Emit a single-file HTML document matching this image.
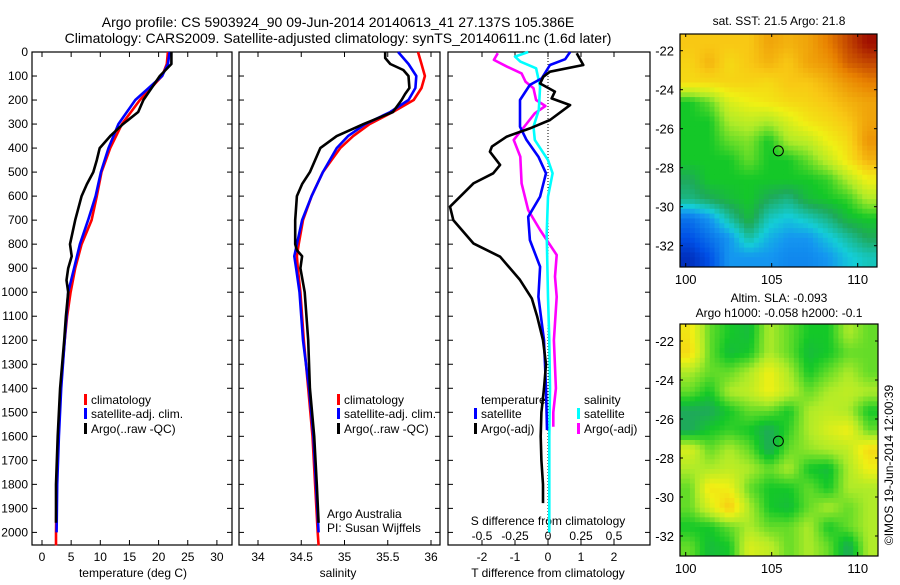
<!DOCTYPE html>
<html><head><meta charset="utf-8"><style>
body{margin:0;background:#fff;width:900px;height:580px;overflow:hidden}
svg{font-family:"Liberation Sans",sans-serif;font-size:12px}
</style></head><body>
<svg id="c" width="900" height="580" xmlns="http://www.w3.org/2000/svg"></svg>
<script>
// ---- data ----
const tempTicks=[0,5,10,15,20,25,30];
const salTicks=[34,34.5,35,35.5,36];
const tdTicks=[-2,-1,0,1,2];
const sdTicks=[-0.5,-0.25,0,0.25,0.5];
const sdTickLabels=["-0.5","-0.25","0","0.25","0.5"];
const depthTicks=[0,100,200,300,400,500,600,700,800,900,1000,1100,1200,1300,1400,1500,1600,1700,1800,1900,2000];
const tClimD=[0,50,100,200,300,400,500,600,700,800,900,1000,1100,1200,1400,1600,1800,2000,2054];
const tClimV=[21.6,21.4,20.6,16.8,13.7,11.7,10.2,9.4,8.5,6.8,5.7,4.9,4.3,3.9,3.2,2.8,2.5,2.4,2.4];
const tSatD=[0,50,100,200,300,400,500,600,700,800,900,1000,1100,1200,1400,1600,1800,2000];
const tSatV=[21.9,21.6,20.6,16.0,13.1,11.4,10.1,9.2,7.9,6.5,5.5,4.5,4.2,3.9,3.3,2.9,2.6,2.5];
const tArgoD=[0,50,100,200,250,300,350,400,450,500,550,600,700,800,850,900,950,1000,1100,1200,1400,1600,1800,1960];
const tArgoV=[22.2,22.2,20.2,17.4,16.5,13.9,11.7,9.9,9.4,8.8,7.7,6.8,5.7,4.8,5.1,4.5,4.2,4.5,4.1,3.8,3.1,2.7,2.4,2.4];
const sClimD=[0,50,100,150,200,250,300,350,400,450,500,600,700,800,850,900,1000,1200,1400,1600,1800,2000,2054];
const sClimV=[35.85,35.89,35.93,35.89,35.80,35.56,35.29,35.10,34.95,34.85,34.75,34.62,34.52,34.47,34.45,34.46,34.49,34.53,34.58,34.63,34.66,34.69,34.70];
const sSatD=[0,50,100,150,200,250,300,350,400,450,500,600,700,800,850,900,1000,1200,1400,1600,1800,2000];
const sSatV=[35.62,35.74,35.83,35.82,35.74,35.53,35.24,35.04,34.91,34.83,34.75,34.62,34.51,34.45,34.42,34.44,34.48,34.52,34.59,34.64,34.67,34.70];
const sArgoD=[0,25,50,75,100,150,175,200,250,300,350,400,450,500,550,600,700,800,825,850,900,1000,1200,1400,1600,1800,1960];
const sArgoV=[35.47,35.47,35.53,35.68,35.74,35.75,35.70,35.66,35.56,35.22,34.91,34.72,34.66,34.60,34.51,34.45,34.43,34.43,34.45,34.51,34.49,34.54,34.58,34.60,34.65,34.68,34.70];
const dTArgoD=[5,54,82,103,131,165,193,221,283,318,352,394,415,470,505,547,644,700,797,852,949,1026,1100,1200,1300,1400,1500,1600,1700,1800,1878];
const dTArgoV=[0.87,1.07,0.06,-0.14,-0.24,0.21,0.11,0.67,0.06,-0.55,-1.25,-1.7,-1.76,-1.45,-1.66,-2.26,-2.97,-2.87,-2.26,-1.45,-0.85,-0.49,-0.33,-0.15,-0.06,-0.12,-0.2,-0.22,-0.2,-0.15,-0.15];
const dTSatD=[0,30,54,110,137,200,311,366,436,505,602,686,783,894,1019,1200,1400,1574];
const dTSatV=[0.67,0.52,0.06,-0.19,-0.55,-0.85,-0.85,-0.65,-0.29,-0.06,-0.24,-0.6,-0.55,-0.24,-0.29,-0.12,-0.06,-0.03];
const dSSatD=[0,19,40,68,144,241,311,366,450,505,602,755,1019,1200,1400,1600,1800,2000];
const dSSatV=[-0.15,-0.25,-0.21,-0.09,-0.06,-0.07,-0.11,-0.10,0,0.035,0,-0.01,0,0.01,0.015,0.01,0.01,0.01];
const dSArgoD=[5,33,61,89,124,151,200,225,255,304,366,436,547,658,741,845,935,1019,1200,1400,1500,1560];
const dSArgoV=[-0.38,-0.41,-0.31,-0.2,-0.17,-0.11,-0.09,-0.02,-0.1,-0.17,-0.26,-0.21,-0.2,-0.15,-0.06,0.066,0.053,0.066,0.045,0.06,0.04,0.04];
const lonTicks=[100,105,110];
const latTicks=[-22,-24,-26,-28,-30,-32];
const sstGrid=[
[0.75,0.75,0.75,0.75,0.8,0.78,0.8,0.85,0.9,0.95],
[0.73,0.78,0.72,0.75,0.78,0.75,0.8,0.82,0.88,0.9],
[0.72,0.72,0.73,0.73,0.72,0.75,0.75,0.78,0.82,0.85],
[0.5,0.55,0.65,0.68,0.7,0.72,0.73,0.75,0.78,0.8],
[0.5,0.5,0.6,0.62,0.6,0.65,0.7,0.72,0.75,0.8],
[0.5,0.5,0.55,0.57,0.5,0.6,0.62,0.68,0.72,0.82],
[0.5,0.5,0.5,0.55,0.5,0.5,0.55,0.62,0.7,0.78],
[0.45,0.5,0.5,0.5,0.5,0.5,0.5,0.52,0.6,0.68],
[0.42,0.45,0.48,0.5,0.45,0.42,0.48,0.5,0.52,0.6],
[0.25,0.3,0.4,0.48,0.38,0.35,0.38,0.42,0.48,0.5],
[0.2,0.25,0.3,0.4,0.33,0.3,0.3,0.35,0.4,0.45],
[0.15,0.2,0.3,0.3,0.3,0.28,0.28,0.3,0.35,0.38]];
const slaGrid=[
[0.7,0.55,0.5,0.48,0.6,0.55,0.5,0.5,0.6,0.55],
[0.72,0.55,0.48,0.5,0.6,0.55,0.48,0.5,0.55,0.55],
[0.6,0.55,0.55,0.6,0.68,0.6,0.5,0.55,0.6,0.55],
[0.55,0.5,0.6,0.62,0.68,0.62,0.55,0.6,0.62,0.6],
[0.45,0.45,0.5,0.55,0.55,0.5,0.6,0.62,0.6,0.5],
[0.45,0.5,0.52,0.5,0.45,0.52,0.6,0.65,0.68,0.55],
[0.65,0.55,0.6,0.55,0.45,0.55,0.58,0.6,0.62,0.72],
[0.6,0.6,0.62,0.6,0.55,0.6,0.5,0.48,0.6,0.68],
[0.55,0.7,0.68,0.55,0.5,0.5,0.55,0.5,0.6,0.6],
[0.55,0.65,0.75,0.6,0.5,0.48,0.55,0.6,0.55,0.6],
[0.5,0.5,0.55,0.6,0.55,0.55,0.6,0.5,0.55,0.6],
[0.55,0.48,0.5,0.65,0.62,0.55,0.6,0.55,0.45,0.6]];
const argoLon=[105.386];
const argoLat=[-27.137];

// ---- helpers ----
const S=document.getElementById('c');const NS='http://www.w3.org/2000/svg';
function mk(t,a,p){const e=document.createElementNS(NS,t);for(const k in a)e.setAttribute(k,a[k]);(p||S).appendChild(e);return e;}
function tx(x,y,s,anchor,name,size){const e=mk('text',{x:x,y:y,'text-anchor':anchor||'start','font-size':size||12});e.textContent=s;return e;}
const T0=52,T1=545,DS=0.2402;
const yD=d=>T0+d*DS;
const xT=v=>42+v*5.83;
const xS=v=>258+(v-34)*86.5;
const xdT=v=>548+v*33;
const xdS=v=>548+v*132;
function panel(x0,x1,name){const r=mk('rect',{x:x0,y:T0,width:x1-x0,height:T1-T0,fill:'none',stroke:'#000','stroke-width':1.2});
 depthTicks.forEach(d=>{mk('line',{x1:x0,x2:x0+5,y1:yD(d),y2:yD(d),stroke:'#000'});mk('line',{x1:x1,x2:x1-5,y1:yD(d),y2:yD(d),stroke:'#000'});});}
function xticks(x0,vals,fx,labels,ly,name){vals.forEach((v,i)=>{const x=fx(v);mk('line',{x1:x,x2:x,y1:T0,y2:T0+5,stroke:'#000'});mk('line',{x1:x,x2:x,y1:T1,y2:T1-5,stroke:'#000'});tx(x,ly,labels?labels[i]:String(v),'middle',name);});}
function line(D,V,fx,col,name){const p=mk('polyline',{points:D.map((d,i)=>fx(V[i]).toFixed(1)+','+yD(d).toFixed(1)).join(' '),fill:'none',stroke:col,'stroke-width':2.6,'stroke-linejoin':'round'});}
function leg(x,y,col,label,name){mk('rect',{x:x,y:y-10,width:3,height:11,fill:col});tx(x+7,y,label,'start',name);}

// titles
tx(338,27,'Argo profile: CS 5903924_90 09-Jun-2014 20140613_41 27.137S 105.386E','middle','main-title',14);
tx(338,43,'Climatology: CARS2009. Satellite-adjusted climatology: synTS_20140611.nc (1.6d later)','middle','main-subtitle',14);

// y labels
depthTicks.forEach(d=>tx(28,yD(d)+4,String(d),'end','depth-tick-label'));

// panel 1 temperature
panel(32,232,'temperature-panel');
xticks(0,tempTicks,xT,null,561,'temperature-tick-label');
tx(133,577,'temperature (deg C)','middle','temperature-axis-title');
line(tClimD,tClimV,xT,'#f00','temp-climatology-line');
line(tSatD,tSatV,xT,'#00f','temp-satellite-line');
line(tArgoD,tArgoV,xT,'#000','temp-argo-line');
leg(84,404,'#f00','climatology','legend-climatology');
leg(84,418,'#00f','satellite-adj. clim.','legend-satellite');
leg(84,433,'#000','Argo(..raw -QC)','legend-argo');

// panel 2 salinity
panel(239,440,'salinity-panel');
xticks(0,salTicks,xS,null,561,'salinity-tick-label');
tx(338,577,'salinity','middle','salinity-axis-title');
line(sClimD,sClimV,xS,'#f00','sal-climatology-line');
line(sSatD,sSatV,xS,'#00f','sal-satellite-line');
line(sArgoD,sArgoV,xS,'#000','sal-argo-line');
leg(337,404,'#f00','climatology','legend-climatology');
leg(337,418,'#00f','satellite-adj. clim.','legend-satellite');
leg(337,433,'#000','Argo(..raw -QC)','legend-argo');
tx(327,518,'Argo Australia','start','credit-text');
tx(327,532,'PI: Susan Wijffels','start','pi-text');

// panel 3 differences
panel(448,650,'difference-panel');
mk('line',{x1:548,x2:548,y1:T0,y2:T1,stroke:'#000','stroke-dasharray':'1,2'});
xticks(0,tdTicks,xdT,null,561,'tdiff-tick-label');
sdTicks.forEach((v,i)=>tx(xdS(v),540,sdTickLabels[i],'middle','sdiff-tick-label'));
tx(548,525,'S difference from climatology','middle','sdiff-axis-title');
tx(548,577,'T difference from climatology','middle','tdiff-axis-title');
line(dSArgoD,dSArgoV,xdS,'#f0f','sdiff-argo-line');
line(dSSatD,dSSatV,xdS,'#0ff','sdiff-satellite-line');
line(dTSatD,dTSatV,xdT,'#00f','tdiff-satellite-line');
line(dTArgoD,dTArgoV,xdT,'#000','tdiff-argo-line');
tx(481,404,'temperature','start','legend-temperature-heading');
tx(584,404,'salinity','start','legend-salinity-heading');
leg(474,418,'#00f','satellite','legend-t-satellite');
leg(474,433,'#000','Argo(-adj)','legend-t-argo');
leg(577,418,'#0ff','satellite','legend-s-satellite');
leg(577,433,'#f0f','Argo(-adj)','legend-s-argo');

// maps
const stops=[[0.1,[0,16,150]],[0.2,[0,80,230]],[0.3,[20,150,240]],[0.36,[20,205,215]],[0.45,[30,170,90]],[0.5,[20,200,40]],[0.55,[100,220,40]],[0.6,[175,235,40]],[0.68,[240,240,20]],[0.75,[248,200,20]],[0.85,[232,128,0]],[0.95,[160,16,0]]];
function cmap(v){if(v<=stops[0][0])return stops[0][1];for(let i=1;i<stops.length;i++){if(v<=stops[i][0]){const a=stops[i-1],b=stops[i],t=(v-a[0])/(b[0]-a[0]);return a[1].map((c,k)=>Math.round(c+(b[1][k]-c)*t));}}return stops[stops.length-1][1];}
function map(x0,x1,y0,y1,grid,latAt22,name,ttl){
 const g=mk('g',{});
 const R=grid.length,C=grid[0].length,sub=4,nr=R*sub,nc=C*sub,cw=(x1-x0)/nc,ch=(y1-y0)/nr;
 function val(r,c){const fr=Math.min(Math.max((r+0.5)/sub-0.5,0),R-1),fc=Math.min(Math.max((c+0.5)/sub-0.5,0),C-1);const r0=Math.floor(fr),c0=Math.floor(fc),r1=Math.min(r0+1,R-1),c1=Math.min(c0+1,C-1),tr=fr-r0,tc=fc-c0;return grid[r0][c0]*(1-tr)*(1-tc)+grid[r0][c1]*(1-tr)*tc+grid[r1][c0]*tr*(1-tc)+grid[r1][c1]*tr*tc;}
 for(let r=0;r<nr;r++)for(let c=0;c<nc;c++){const col=cmap(val(r,c));mk('rect',{x:(x0+c*cw).toFixed(2),y:(y0+r*ch).toFixed(2),width:(cw+0.4).toFixed(2),height:(ch+0.4).toFixed(2),fill:'rgb('+col.join(',')+')'},g);}
 mk('rect',{x:x0,y:y0,width:x1-x0,height:y1-y0,fill:'none',stroke:'#000','stroke-width':1.2});
 const xL=lon=>685.7+(lon-100)*17.2, yL=lat=>latAt22+(-22-lat)*19.5;
 lonTicks.forEach(l=>{mk('line',{x1:xL(l),x2:xL(l),y1:y1,y2:y1-4,stroke:'#000'});mk('line',{x1:xL(l),x2:xL(l),y1:y0,y2:y0+3,stroke:'#000'});tx(xL(l),y1+17,String(l),'middle','lon-tick-label',13);});
 latTicks.forEach(l=>{mk('line',{x1:x0,x2:x0+3,y1:yL(l),y2:yL(l),stroke:'#000'});mk('line',{x1:x1,x2:x1-3,y1:yL(l),y2:yL(l),stroke:'#000'});tx(x0-6,yL(l)+5,String(l),'end','lat-tick-label',13);});
 const ci=mk('circle',{cx:xL(argoLon[0]),cy:yL(argoLat[0]),r:5,fill:'none',stroke:'#000','stroke-width':1});
 
}
tx(779,25,'sat. SST: 21.5 Argo: 21.8','middle','sst-map-title');
map(680,877,34,267,sstGrid,50.7,'sst-map');
tx(779,302,'Altim. SLA: -0.093','middle','sla-map-title');
tx(779,317,'Argo h1000: -0.058 h2000: -0.1','middle','sla-map-subtitle');
map(680,878,324,556,slaGrid,341,'sla-map');
const rt=tx(0,0,'\u00A9IMOS 19-Jun-2014 12:00:39','middle','timestamp-text',12);
rt.setAttribute('transform','translate(893,465) rotate(-90)');
</script>
</body></html>
